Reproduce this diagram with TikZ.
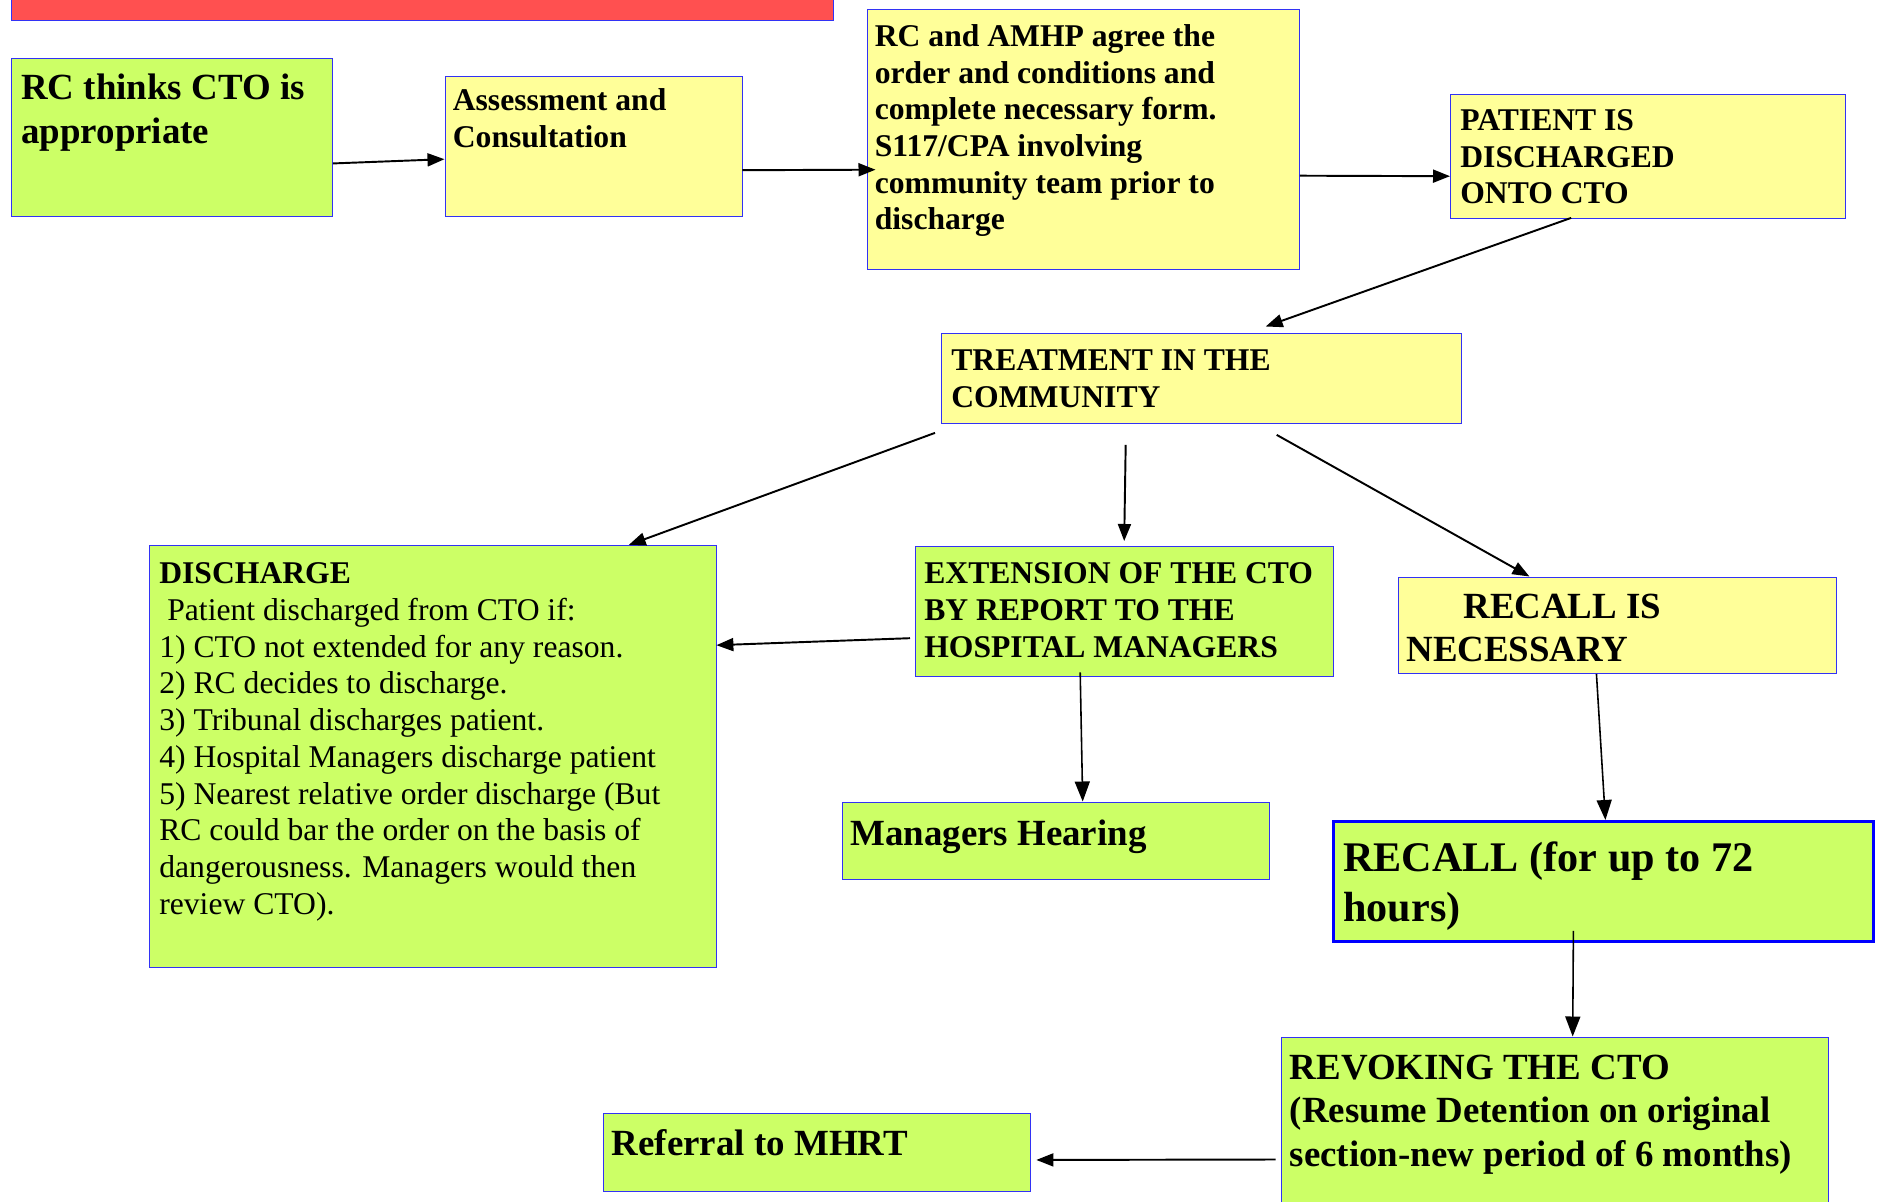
\documentclass[tikz,border=0pt]{standalone}
\usepackage{fontspec}
\setmainfont{Liberation Serif}
\usetikzlibrary{arrows.meta}

\definecolor{limegreen}{RGB}{204,255,102}
\definecolor{paleyellow}{RGB}{255,255,153}
\definecolor{barred}{RGB}{255,80,80}
\definecolor{edgeblue}{RGB}{50,50,245}

\tikzset{
  gbox/.style={draw=edgeblue, line width=0.5pt, fill=limegreen, anchor=north west, inner sep=0pt},
  ybox/.style={draw=edgeblue, line width=0.5pt, fill=paleyellow, anchor=north west, inner sep=0pt},
  txt/.style={anchor=north west, align=left, inner sep=0pt, font=\bfseries\fontsize{18}{20.9}\selectfont},
  bigtxt/.style={txt, font=\bfseries\fontsize{21}{24.7}\selectfont},
  arr/.style={-{Triangle[length=0.34cm,width=0.26cm]}, line width=1.1pt},
  thinarr/.style={-{Triangle[length=0.4cm,width=0.3cm]}, line width=0.9pt}
}

\begin{document}
\begin{tikzpicture}
\useasboundingbox (0,0) rectangle (37.6,-24.04);

% title bar (cut off at the top)
\draw[draw=edgeblue, line width=0.5pt, fill=barred] (0.22,0.3) rectangle (16.66,-0.41);

% boxes
\node[gbox, minimum width=6.42cm, minimum height=3.16cm] (rc) at (0.22,-1.15) {};
\node[ybox, minimum width=5.94cm, minimum height=2.81cm] (assess) at (8.89,-1.51) {};
\node[ybox, minimum width=8.65cm, minimum height=5.21cm] (agree) at (17.33,-0.17) {};
\node[ybox, minimum width=7.89cm, minimum height=2.49cm] (patient) at (29.0,-1.87) {};
\node[ybox, minimum width=10.39cm, minimum height=1.81cm] (treat) at (18.82,-6.65) {};
\node[gbox, minimum width=11.33cm, minimum height=8.43cm] (disch) at (2.98,-10.9) {};
\node[gbox, minimum width=8.35cm, minimum height=2.59cm] (ext) at (18.3,-10.92) {};
\node[ybox, minimum width=8.76cm, minimum height=1.93cm] (recnec) at (27.96,-11.53) {};
\node[gbox, minimum width=8.53cm, minimum height=1.55cm] (hearing) at (16.84,-16.03) {};
\node[gbox, draw=blue, line width=1.6pt, minimum width=10.8cm, minimum height=2.4cm] (recall) at (26.64,-16.4) {};
\node[gbox, minimum width=10.95cm, minimum height=3.6cm] (revoke) at (25.61,-20.73) {};
\node[gbox, minimum width=8.54cm, minimum height=1.56cm] (mhrt) at (12.05,-22.25) {};

% texts
\node[bigtxt] (rc-t) at ([shift={(0.2,-0.33)}]rc.north west) {RC thinks CTO is\\appropriate};
\node[txt] (assess-t) at ([shift={(0.16,-0.25)}]assess.north west) {Assessment and\\Consultation};
\node[txt] (agree-t) at ([shift={(0.16,-0.31)}]agree.north west) {RC and AMHP agree the\\order and conditions and\\complete necessary form.\\S117/CPA involving\\community team prior to\\discharge};
\node[txt] (patient-t) at ([shift={(0.2,-0.31)}]patient.north west) {PATIENT IS\\DISCHARGED\\ONTO CTO};
\node[txt] (treat-t) at ([shift={(0.2,-0.34)}]treat.north west) {TREATMENT IN THE\\COMMUNITY};
\node[txt, font=\fontsize{18}{20.9}\selectfont] (disch-t) at ([shift={(0.2,-0.35)}]disch.north west)
  {\textbf{DISCHARGE}\\\hspace*{0.16cm}Patient discharged from CTO if:\\1) CTO not extended for any reason.\\2) RC decides to discharge.\\3) Tribunal discharges patient.\\4) Hospital Managers discharge patient\\5) Nearest relative order discharge (But\\RC could bar the order on the basis of\\dangerousness. Managers would then\\review CTO).};
\node[txt] (ext-t) at ([shift={(0.18,-0.33)}]ext.north west) {EXTENSION OF THE CTO\\BY REPORT TO THE\\HOSPITAL MANAGERS};
\node[bigtxt] (recnec-t) at ([shift={(0.16,-0.34)}]recnec.north west) {\hspace*{1.14cm}RECALL IS\\NECESSARY};
\node[bigtxt] (hearing-t) at ([shift={(0.16,-0.36)}]hearing.north west) {Managers Hearing};
\node[txt, font=\bfseries\fontsize{24}{28.5}\selectfont] (recall-t) at ([shift={(0.22,-0.42)}]recall.north west) {RECALL (for up to 72\\hours)};
\node[bigtxt] (revoke-t) at ([shift={(0.18,-0.36)}]revoke.north west) {REVOKING THE CTO\\(Resume Detention on original\\section-new period of 6 months)};
\node[bigtxt] (mhrt-t) at ([shift={(0.18,-0.34)}]mhrt.north west) {Referral to MHRT};

% connectors
\draw[arr] ([yshift=-0.53cm]rc.east) -- ([yshift=-0.26cm]assess.west);
\draw[arr] ([yshift=-0.48cm]assess.east) -- ([shift={(0.18,-0.61)}]agree.west);
\draw[arr] ([yshift=-0.73cm]agree.east) -- ([yshift=-0.4cm]patient.west);
\draw[arr] ([shift={(-1.53,0.02)}]patient.south) -- ([shift={(1.29,0.12)}]treat.north);
\draw[arr] ([shift={(-0.12,-0.18)}]treat.south west) -- ([xshift=3.92cm]disch.north);
\draw[arr] ([shift={(-1.51,-0.42)}]treat.south) -- ([yshift=0.1cm]ext.north);
\draw[arr] ([shift={(1.51,-0.22)}]treat.south) -- ([xshift=-1.76cm]recnec.north);
\draw[arr] ([shift={(-0.1,-0.54)}]ext.west) -- ([yshift=2.22cm]disch.east);
\draw[thinarr] ([shift={(-0.88,0.08)}]ext.south) -- ([xshift=0.54cm]hearing.north);
\draw[thinarr] ([xshift=-0.42cm]recnec.south) -- ([xshift=0.04cm]recall.north);
\draw[thinarr] ([shift={(-0.6,0.24)}]recall.south) -- ([xshift=0.36cm]revoke.north);
\draw[arr] ([shift={(-0.1,-2.46)}]revoke.north west) -- ([shift={(0.12,-0.16)}]mhrt.east);
\end{tikzpicture}
\end{document}
